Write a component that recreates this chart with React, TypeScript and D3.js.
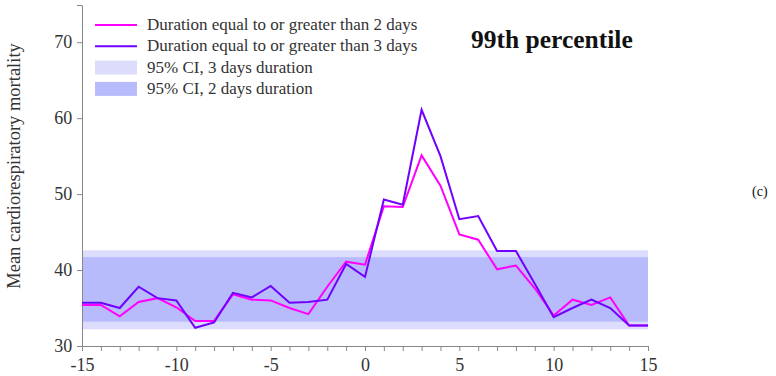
import React, { useEffect, useRef } from "react";
import * as d3 from "d3";

const days = d3.range(-15, 16);
// mean mortality, duration >= 2 days
const dur2 = [35.4, 35.4, 33.9, 35.8, 36.3, 35.1, 33.3, 33.3, 36.8, 36.1, 36.0, 35.0, 34.2, 37.8, 41.1, 40.7,
  48.4, 48.3, 55.1, 51.1, 44.7, 44.0, 40.1, 40.6, 37.6, 34.0, 36.1, 35.4, 36.4, 32.7, 32.7];
// mean mortality, duration >= 3 days
const dur3 = [35.7, 35.7, 35.0, 37.8, 36.3, 36.0, 32.4, 33.1, 37.0, 36.4, 37.9, 35.7, 35.8, 36.1, 40.8, 39.1,
  49.3, 48.6, 61.1, 55.0, 46.7, 47.1, 42.5, 42.5, 38.2, 33.8, 35.0, 36.1, 35.0, 32.7, 32.7];
const ci3 = [32.2, 42.6];
const ci2 = [33.2, 41.7];
const xTickLabels = [-15, -10, -5, 0, 5, 10, 15];
const yTickLabels = [30, 40, 50, 60, 70];

const W = 776, H = 376;

const App = () => {
  const ref = useRef<SVGSVGElement>(null);

  useEffect(() => {
    const svg = d3.select(ref.current);
    svg.selectAll("*").remove();
    const font = "Liberation Serif";
    svg.attr("font-family", font);

    let x = d3.scaleLinear().domain([-15, 15]).range([82, 648]);
    let y = d3.scaleLinear().domain([30, 74.9]).range([346, 5]);

    // CI bands
    svg.append("rect")
      .attr("x", x(-15)).attr("width", x(15) - x(-15))
      .attr("y", y(ci3[1])).attr("height", y(ci3[0]) - y(ci3[1]))
      .attr("fill", "#dcdcfc");
    svg.append("rect")
      .attr("x", x(-15)).attr("width", x(15) - x(-15))
      .attr("y", y(ci2[1])).attr("height", y(ci2[0]) - y(ci2[1]))
      .attr("fill", "#b8bbfb");

    // axes
    const xAxis = svg.append("g").attr("transform", `translate(0,${y(30)})`)
      .call(d3.axisBottom(x).tickValues(days).tickSize(5).tickFormat((d: any) =>
        xTickLabels.includes(+d) ? String(d) : ""));
    const yAxis = svg.append("g").attr("transform", `translate(${x(-15)},0)`)
      .call(d3.axisLeft(y).tickValues(yTickLabels).tickSize(5));
    [xAxis, yAxis].forEach((g) => {
      g.attr("font-family", font).attr("font-size", 18);
      g.select(".domain").attr("stroke", "#888");
      g.selectAll(".tick line").attr("stroke", "#888");
      g.selectAll("text").attr("font-family", font).attr("font-size", 18).attr("fill", "#333");
    });
    xAxis.selectAll("text").attr("dy", "0.95em");
    yAxis.selectAll("text").attr("dx", "-0.1em");

    // lines
    const line = d3.line<number>().x((_, i) => x(days[i])).y((d) => y(d));
    svg.append("path").datum(dur2).attr("d", line).attr("fill", "none")
      .attr("stroke", "#ff00ff").attr("stroke-width", 2);
    svg.append("path").datum(dur3).attr("d", line).attr("fill", "none")
      .attr("stroke", "#7000ff").attr("stroke-width", 2);

    // legend
    const leg = [
      { label: "Duration equal to or greater than 2 days", color: "#ff00ff", type: "line" },
      { label: "Duration equal to or greater than 3 days", color: "#7000ff", type: "line" },
      { label: "95% CI, 3 days duration", color: "#dcdcfc", type: "rect" },
      { label: "95% CI, 2 days duration", color: "#b8bbfb", type: "rect" },
    ];
    leg.forEach((l, i) => {
      const cy = 25 + i * 21.3;
      if (l.type === "line") {
        svg.append("line").attr("x1", 95).attr("x2", 137).attr("y1", cy).attr("y2", cy)
          .attr("stroke", l.color).attr("stroke-width", 2);
      } else {
        svg.append("rect").attr("x", 95).attr("width", 42).attr("y", cy - 7).attr("height", 14)
          .attr("fill", l.color);
      }
      svg.append("text").attr("x", 147).attr("y", cy + 5).text(l.label)
        .attr("font-family", font).attr("font-size", 17).attr("fill", "#333");
    });

    svg.append("text").attr("x", 471).attr("y", 48).text("99th percentile")
      .attr("font-family", font).attr("font-size", 25.5).attr("font-weight", "bold").attr("fill", "#111");
    svg.append("text").attr("x", 752).attr("y", 196).text("(c)")
      .attr("font-family", font).attr("font-size", 14).attr("fill", "#111");
    svg.append("text")
      .attr("transform", `translate(20,166) rotate(-90)`)
      .attr("text-anchor", "middle").text("Mean cardiorespiratory mortality")
      .attr("font-family", font).attr("font-size", 18.5).attr("fill", "#333");
  }, []);

  return <svg ref={ref} width={W} height={H} style={{ position: "absolute", left: 0, top: 0 }} />;
};

export default App;
